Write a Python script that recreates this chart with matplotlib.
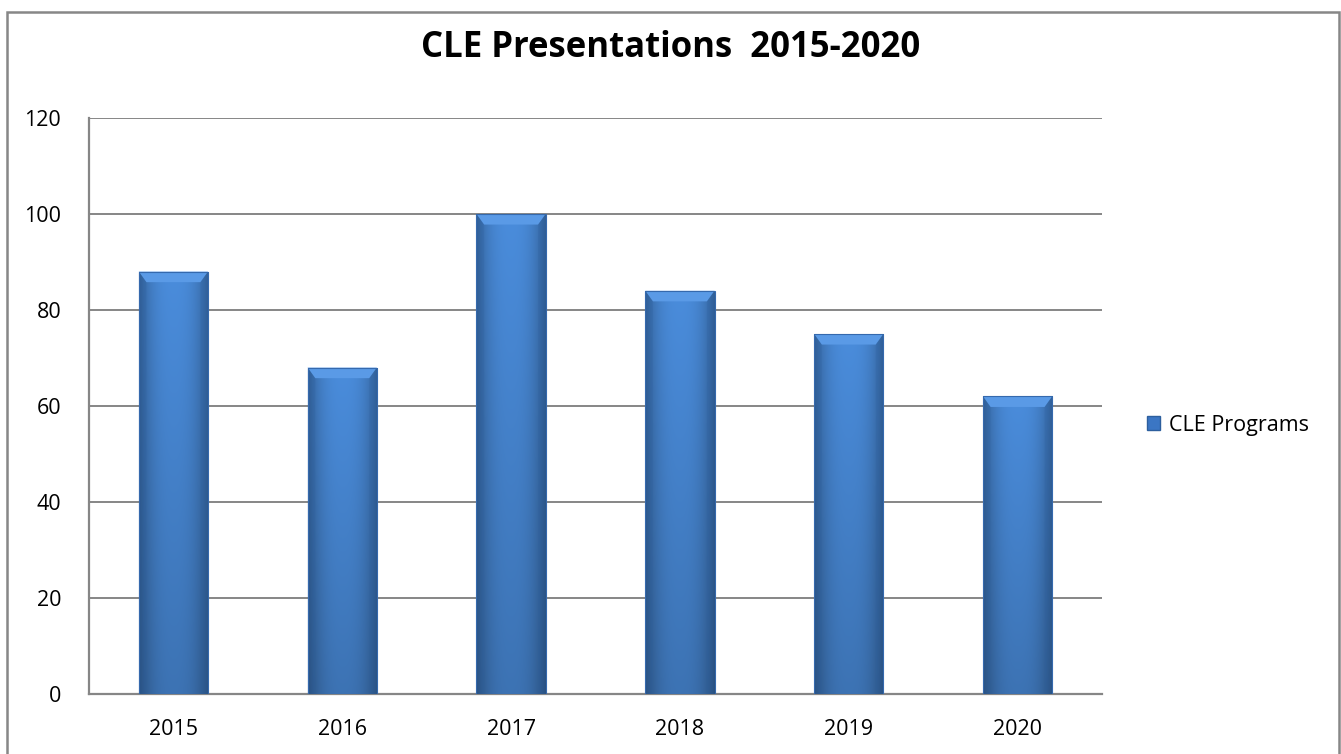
import numpy as np
import matplotlib
matplotlib.use("Agg")
import matplotlib.pyplot as plt
from matplotlib.patches import Rectangle, Polygon, Patch

years = ["2015", "2016", "2017", "2018", "2019", "2020"]
programs = [88, 68, 100, 84, 75, 62]

plt.rcParams['font.family'] = ['Open Sans', 'DejaVu Sans']

fig = plt.figure(figsize=(13.41, 7.54), dpi=100)
ax = fig.add_axes([89 / 1341, 60 / 754, 1013 / 1341, 576 / 754])

# chart frame around the whole figure
fig.patches.append(Rectangle((7 / 1341, -0.05), 1332 / 1341, 1.05 - 12 / 754,
                             transform=fig.transFigure, fill=False,
                             edgecolor="#878787", lw=1.8))

x = np.arange(len(years))
bars = ax.bar(x, programs, width=0.41, color="#3b76c4", zorder=2)

# shaded fill for each bar: darker at the sides and towards the bottom
cols = np.linspace(-1, 1, 60)
rows = np.linspace(0, 1, 100)
side = 1 - 0.32 * np.abs(cols) ** 2.5
depth = 0.82 + 0.18 * rows
base = np.array([0.29, 0.55, 0.86])
shade = side[None, :, None] * depth[:, None, None] * base[None, None, :]
img = np.clip(shade, 0, 1)

for b in bars:
    x0, y0 = b.get_x(), b.get_y()
    w, h = b.get_width(), b.get_height()
    im = ax.imshow(img, extent=(x0, x0 + w, y0, y0 + h), origin="lower",
                   aspect="auto", zorder=3, interpolation="bilinear")
    im.set_clip_path(b)
    # bevelled top edge
    dx, dy = 0.045, 2.2
    top = y0 + h
    ax.add_patch(Polygon([(x0, top), (x0 + w, top), (x0 + w - dx, top - dy),
                          (x0 + dx, top - dy)], closed=True,
                         facecolor="#5a9ae6", edgecolor="none", zorder=4))
    ax.add_patch(Polygon([(x0, top), (x0 + dx, top - dy), (x0 + dx, y0),
                          (x0, y0)], closed=True,
                         facecolor="#2d5f9e", edgecolor="none", alpha=0.25, zorder=4))
    ax.add_patch(Polygon([(x0 + w, top), (x0 + w - dx, top - dy), (x0 + w - dx, y0),
                          (x0 + w, y0)], closed=True,
                         facecolor="#2d5f9e", edgecolor="none", alpha=0.25, zorder=4))
    ax.add_patch(Rectangle((x0, y0), w, h, fill=False, edgecolor="#3569ad",
                           lw=0.8, zorder=5))

ax.set_xlim(-0.5, len(years) - 0.5)
ax.set_ylim(0, 120)
ax.set_yticks(range(0, 121, 20))
ax.set_xticks(x)
ax.set_xticklabels(years)
ax.yaxis.grid(True, color="#868686", lw=1.4, zorder=1)
ax.set_axisbelow(True)
ax.tick_params(length=0, labelsize=15.5)
ax.tick_params(axis="x", pad=18)
ax.tick_params(axis="y", pad=20)
for s in ["top", "right"]:
    ax.spines[s].set_visible(False)
for s in ["left", "bottom"]:
    ax.spines[s].set_color("#868686")
    ax.spines[s].set_linewidth(1.6)

fig.text(0.5, 1 - 48 / 754, "CLE Presentations  2015-2020", ha="center",
         va="center", fontsize=25, fontweight="bold")

handle = Patch(facecolor="#3b76c4", edgecolor="#2d5f9e")
fig.legend([handle], ["CLE Programs"], loc="center left",
           bbox_to_anchor=(1128 / 1341, 1 - 425 / 754), frameon=False,
           fontsize=15.5, handlelength=0.6, handleheight=0.6, handletextpad=0.4)

fig.savefig("out.png", dpi=100)
